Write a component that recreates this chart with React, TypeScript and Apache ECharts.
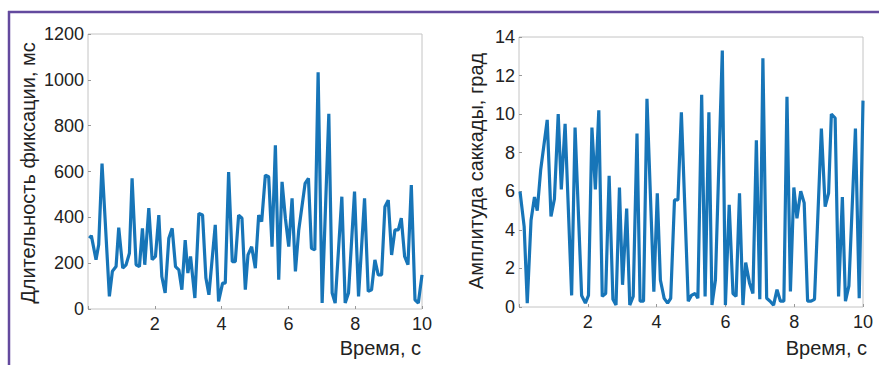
import React, { useEffect, useRef } from "react";
import * as echarts from "echarts";

const fixTime = [0.04, 0.1, 0.24, 0.32, 0.42, 0.64, 0.73, 0.84, 0.92, 1.04, 1.14, 1.24, 1.32, 1.44, 1.54, 1.63, 1.7, 1.82, 1.92, 2.02, 2.12, 2.21, 2.31, 2.42, 2.52, 2.62, 2.72, 2.81, 2.91, 2.99, 3.07, 3.2, 3.32, 3.43, 3.53, 3.62, 3.81, 3.91, 4.03, 4.11, 4.21, 4.32, 4.41, 4.51, 4.61, 4.71, 4.79, 4.9, 5.01, 5.11, 5.2, 5.31, 5.41, 5.51, 5.61, 5.71, 5.81, 5.91, 6.01, 6.11, 6.21, 6.31, 6.5, 6.6, 6.69, 6.79, 6.89, 7.01, 7.21, 7.31, 7.4, 7.6, 7.7, 7.8, 7.98, 8.1, 8.28, 8.39, 8.49, 8.59, 8.69, 8.79, 8.89, 8.99, 9.09, 9.19, 9.29, 9.38, 9.48, 9.58, 9.68, 9.79, 9.89, 10.0];
const fixDur = [309, 320, 215, 280, 635, 55, 165, 185, 355, 178, 193, 243, 570, 193, 185, 352, 193, 440, 215, 230, 410, 142, 70, 309, 352, 185, 171, 84, 301, 157, 229, 48, 417, 410, 135, 62, 367, 33, 113, 113, 598, 207, 207, 410, 396, 84, 236, 272, 178, 410, 381, 584, 577, 272, 714, 128, 555, 396, 272, 483, 164, 345, 548, 570, 265, 258, 1033, 26, 852, 70, 26, 490, 26, 70, 512, 55, 483, 77, 84, 214, 149, 149, 446, 475, 236, 345, 345, 396, 229, 193, 541, 40, 26, 149];

const sacTime = [0.03, 0.15, 0.24, 0.35, 0.45, 0.53, 0.63, 0.82, 0.93, 1.03, 1.14, 1.23, 1.34, 1.53, 1.63, 1.82, 1.93, 2.02, 2.12, 2.22, 2.32, 2.42, 2.52, 2.62, 2.73, 2.82, 2.92, 3.01, 3.13, 3.22, 3.32, 3.43, 3.52, 3.62, 3.72, 3.92, 4.02, 4.11, 4.22, 4.32, 4.41, 4.52, 4.62, 4.72, 4.92, 5.01, 5.12, 5.2, 5.31, 5.41, 5.52, 5.61, 5.71, 5.91, 6.0, 6.11, 6.22, 6.31, 6.41, 6.51, 6.59, 6.7, 6.8, 6.9, 7.0, 7.09, 7.2, 7.3, 7.4, 7.5, 7.6, 7.7, 7.79, 7.89, 7.99, 8.08, 8.19, 8.29, 8.39, 8.49, 8.59, 8.79, 8.9, 9.0, 9.08, 9.19, 9.29, 9.4, 9.49, 9.59, 9.78, 9.89, 10.0];
const sacAmp = [5.98, 4.17, 0.2, 4.5, 5.7, 5.0, 7.1, 9.7, 4.7, 5.6, 10.0, 6.1, 9.5, 0.6, 9.3, 0.6, 0.2, 0.6, 9.3, 6.1, 10.2, 0.55, 0.7, 6.8, 0.4, 0.1, 6.2, 1.15, 5.1, 0.1, 0.55, 9.0, 0.3, 0.3, 10.8, 0.8, 5.9, 1.4, 0.45, 0.2, 0.45, 5.55, 5.55, 10.1, 0.3, 0.6, 0.7, 0.45, 11.0, 0.55, 10.1, 0.1, 1.4, 13.3, 0.1, 5.3, 0.7, 0.55, 5.9, 0.1, 2.3, 1.25, 0.7, 8.65, 0.4, 12.9, 0.45, 0.3, 0.1, 0.9, 0.3, 0.3, 10.9, 0.8, 6.2, 4.6, 6.0, 5.4, 0.3, 0.3, 0.4, 9.25, 5.2, 5.9, 10.0, 9.8, 0.55, 5.7, 0.3, 1.1, 9.25, 0.45, 10.7];

const xTicks = [2, 4, 6, 8, 10];
const leftYMax = 1200;
const rightYMax = 14;
const xTitle = "Время, с";
const leftYTitle = "Длительность фиксации, мс";
const rightYTitle = "Амплитуда саккады, град";

const FONT = "'Liberation Sans', Arial, sans-serif";
const LINE = "#1775b8";
const TXT = "#222";
const TICK_FS = 18;
const TITLE_FS = 20;

export default function App() {
  const ref = useRef<HTMLDivElement>(null);
  useEffect(() => {
    const chart = echarts.init(ref.current!, null, { renderer: "svg" });
    const xAxisBase = (gi: number) => ({
      type: "value",
      gridIndex: gi,
      min: 0,
      max: 10,
      interval: 2,
      axisLine: { show: false },
      axisTick: { show: true, inside: true, length: 3, lineStyle: { color: "#999" } },
      splitLine: { show: false },
      axisLabel: {
        fontFamily: FONT,
        fontSize: TICK_FS,
        color: TXT,
        margin: 6,
        formatter: (v: number) => (xTicks.includes(v) ? String(v) : ""),
      },
    });
    const yAxisBase = (gi: number, max: number, interval: number) => ({
      type: "value",
      gridIndex: gi,
      min: 0,
      max,
      interval,
      axisLine: { show: false },
      axisTick: { show: true, inside: true, length: 3, lineStyle: { color: "#999" } },
      splitLine: { show: false },
      axisLabel: { fontFamily: FONT, fontSize: TICK_FS, color: TXT, margin: 4, formatter: (v: number) => String(v) },
    });
    chart.setOption({
      animation: false,
      grid: [
        { left: 88, top: 34, width: 334, height: 275, show: true, borderColor: "#c4c4c4", borderWidth: 1, backgroundColor: "transparent" },
        { left: 519, top: 37, width: 344, height: 270, show: true, borderColor: "#c4c4c4", borderWidth: 1, backgroundColor: "transparent" },
      ],
      xAxis: [xAxisBase(0), xAxisBase(1)],
      yAxis: [yAxisBase(0, leftYMax, 200), yAxisBase(1, rightYMax, 2)],
      series: [
        {
          type: "line",
          xAxisIndex: 0,
          yAxisIndex: 0,
          showSymbol: false,
          data: fixTime.map((t, i) => [t, fixDur[i]]),
          lineStyle: { color: LINE, width: 3.2 },
        },
        {
          type: "line",
          xAxisIndex: 1,
          yAxisIndex: 1,
          showSymbol: false,
          data: sacTime.map((t, i) => [t, sacAmp[i]]),
          lineStyle: { color: LINE, width: 3.2 },
        },
      ],
      graphic: [
        { type: "line", shape: { x1: 8, y1: 12, x2: 879, y2: 12 }, style: { stroke: "#634a9e", lineWidth: 2.5 } },
        { type: "line", shape: { x1: 9, y1: 11, x2: 9, y2: 365 }, style: { stroke: "#634a9e", lineWidth: 2.5 } },
        { type: "text", x: 421, y: 348, style: { text: xTitle, font: `${TITLE_FS}px ${FONT}`, fill: TXT, align: "right", verticalAlign: "middle" } },
        { type: "text", x: 867, y: 348, style: { text: xTitle, font: `${TITLE_FS}px ${FONT}`, fill: TXT, align: "right", verticalAlign: "middle" } },
        { type: "text", x: 28, y: 173, rotation: Math.PI / 2, style: { text: leftYTitle, font: `${TITLE_FS}px ${FONT}`, fill: TXT, align: "center", verticalAlign: "middle" } },
        { type: "text", x: 476, y: 171, rotation: Math.PI / 2, style: { text: rightYTitle, font: `${TITLE_FS}px ${FONT}`, fill: TXT, align: "center", verticalAlign: "middle" } },
      ],
    });
    return () => chart.dispose();
  }, []);
  return (
    <div
      ref={ref}
      style={{ position: "fixed", left: 0, top: 0, width: 879, height: 365, background: "#fff" }}
    />
  );
}
